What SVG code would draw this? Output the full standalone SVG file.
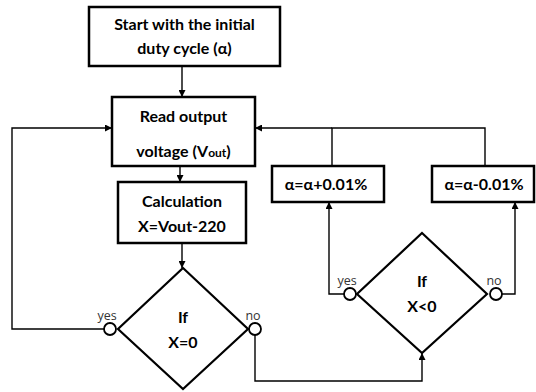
<svg xmlns="http://www.w3.org/2000/svg" width="536" height="392" viewBox="0 0 536 392">
<defs>
<marker id="ah" viewBox="0 0 10 10" refX="10" refY="5" markerWidth="8" markerHeight="7" markerUnits="userSpaceOnUse" orient="auto">
<path d="M0,0 L10,5 L0,10 Z" fill="#000"/>
</marker>
</defs>
<style>
.box{fill:#fff;stroke:#000;stroke-width:2.5}
.dia{fill:#fff;stroke:#000;stroke-width:2.2}
.circ{fill:#fff;stroke:#000;stroke-width:1.8}
.con{fill:none;stroke:#000;stroke-width:1.4}
.t{font-family:Lato,"Liberation Sans",sans-serif;font-weight:bold;font-size:16px;text-anchor:middle;fill:#000}
.l{font-family:"Open Sans","Liberation Sans",sans-serif;font-size:12.5px;text-anchor:middle;fill:#333}
</style>
<rect width="536" height="392" fill="#fff"/>
<g id="connectors">
<line class="con" x1="182" y1="66" x2="182" y2="97" marker-end="url(#ah)"/>
<line class="con" x1="180" y1="166" x2="180" y2="182" marker-end="url(#ah)"/>
<line class="con" x1="182" y1="243" x2="182" y2="268" marker-end="url(#ah)"/>
<polyline class="con" points="104,329 12,329 12,128 112,128" marker-end="url(#ah)"/>
<polyline class="con" points="332,166 332,128 485,128 485,166"/>
<line class="con" x1="332" y1="128" x2="255" y2="128" marker-end="url(#ah)"/>
<polyline class="con" points="255,335 255,381 422,381 422,353" marker-end="url(#ah)"/>
<polyline class="con" points="344,294 329,294 329,202" marker-end="url(#ah)"/>
<polyline class="con" points="502,294 515,294 515,202" marker-end="url(#ah)"/>
</g>
<g id="start">
<rect class="box" x="89" y="7" width="191" height="59"/>
<text class="t" x="184.5" y="30">Start with the initial</text>
<text class="t" x="184.5" y="54">duty cycle (α)</text>
</g>
<g id="read">
<rect class="box" x="112" y="97" width="143" height="69"/>
<text class="t" x="183.5" y="122">Read output</text>
<text class="t" x="183.5" y="157">voltage (V<tspan font-size="12">out</tspan>)</text>
</g>
<g id="calc">
<rect class="box" x="118" y="182" width="128" height="61"/>
<text class="t" x="182" y="207">Calculation</text>
<text class="t" x="182" y="232">X=Vout-220</text>
</g>
<g id="ifx0">
<polygon class="dia" points="183,268 248,329 183,389 118,329"/>
<text class="t" x="183" y="323">If</text>
<text class="t" x="183" y="348">X=0</text>
<circle class="circ" cx="110" cy="329" r="6"/>
<circle class="circ" cx="255" cy="329" r="6"/>
<text class="l" x="107" y="320">yes</text>
<text class="l" x="253" y="320">no</text>
</g>
<g id="ifxlt0">
<polygon class="dia" points="422,233 487,294 422,353 357,294"/>
<text class="t" x="422" y="287">If</text>
<text class="t" x="422" y="312">X&lt;0</text>
<circle class="circ" cx="350" cy="294" r="6"/>
<circle class="circ" cx="496" cy="294" r="6"/>
<text class="l" x="347" y="285">yes</text>
<text class="l" x="494" y="285">no</text>
</g>
<g id="inc">
<rect class="box" x="272" y="166" width="112" height="36"/>
<text class="t" x="326" y="190">α=α+0.01%</text>
</g>
<g id="dec">
<rect class="box" x="432" y="166" width="102" height="36"/>
<text class="t" x="484" y="190">α=α-0.01%</text>
</g>
</svg>
